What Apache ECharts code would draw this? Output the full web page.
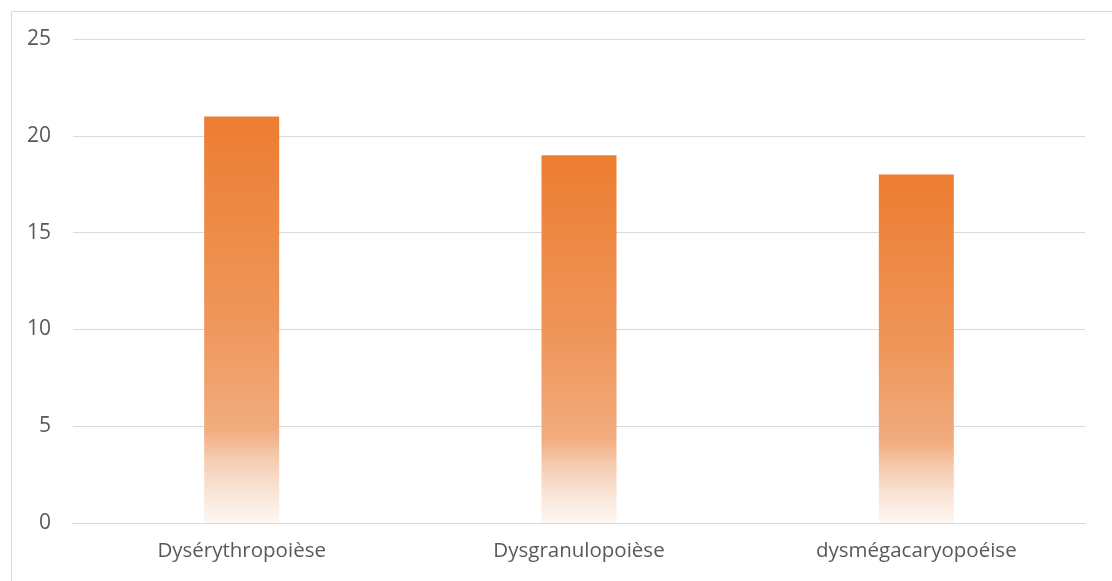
<!DOCTYPE html>
<html>
<head>
<meta charset="utf-8">
<script src="https://cdn.jsdelivr.net/npm/echarts@6/dist/echarts.min.js"></script>
<style>
  html, body { margin: 0; padding: 0; background: #ffffff; }
  #chart { width: 1112px; height: 581px; }
</style>
</head>
<body>
<div id="chart"></div>
<script>
// Categories and counts for each type of dysplasia
const categories = ['Dysérythropoièse', 'Dysgranulopoièse', 'dysmégacaryopoéise'];
const counts = [21, 19, 18];
const yTicks = { min: 0, max: 25, interval: 5 };

const chart = echarts.init(document.getElementById('chart'), null, { renderer: 'canvas' });

// Orange fill that fades to white toward the base of each bar
const barFill = new echarts.graphic.LinearGradient(0, 0, 0, 1, [
  { offset: 0, color: '#ED7D31' },
  { offset: 0.5, color: '#EF965A' },
  { offset: 0.77, color: '#F1AC7E' },
  { offset: 0.84, color: '#F5CBAE' },
  { offset: 0.92, color: '#F9E4D6' },
  { offset: 1, color: '#FDF7F3' }
]);

chart.setOption({
  animation: false,
  backgroundColor: '#ffffff',
  graphic: [{
    type: 'rect',
    left: 9, top: 9,
    shape: { width: 1200, height: 700 },
    style: { fill: 'none', stroke: '#D9D9D9', lineWidth: 1 },
    silent: true, z: -1
  }],
  grid: { left: 73, right: 27, top: 39, bottom: 58, containLabel: false },
  xAxis: {
    type: 'category',
    data: categories,
    axisLine: { show: true, lineStyle: { color: '#D9D9D9', width: 1 } },
    axisTick: { show: false },
    axisLabel: {
      color: '#595959', fontSize: 20.5, fontFamily: 'Open Sans', margin: 18
    }
  },
  yAxis: {
    type: 'value',
    min: yTicks.min, max: yTicks.max, interval: yTicks.interval,
    axisLine: { show: false },
    axisTick: { show: false },
    splitLine: { lineStyle: { color: '#D9D9D9', width: 1 } },
    axisLabel: {
      color: '#595959', fontSize: 21, fontFamily: 'Open Sans', margin: 22
    }
  },
  series: [{
    type: 'bar',
    data: counts,
    barWidth: 75,
    itemStyle: { color: barFill }
  }]
});
</script>
</body>
</html>
